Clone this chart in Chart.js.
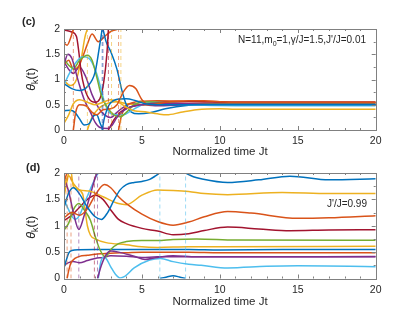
<!DOCTYPE html>
<html>
<head>
<meta charset="utf-8">
<script src="https://cdn.jsdelivr.net/npm/chart.js@4"></script>
<style>
  body { margin: 0; background: #fff; width: 415px; height: 313px; overflow: hidden; position: relative;
         font-family: "Liberation Sans", Arial, sans-serif; color: #262626; }
  .panel { position: absolute; left: 0; width: 415px; height: 150px; }
  .txt { position: absolute; white-space: nowrap; line-height: 1; }
  .tag { font-weight: bold; font-size: 11px; }
  .xt { font-size: 11.5px; width: 312px; left: 64px; text-align: center; }
  .yt { font-size: 12.5px; transform: rotate(-90deg); transform-origin: center; width: 40px; text-align: center; }
  .note { font-size: 10px; }
  sub { font-size: 70%; vertical-align: -3px; line-height: 0; }
</style>
</head>
<body>
<div class="panel" id="boxC" style="top:0"><canvas id="chartC"></canvas></div>
<div class="panel" id="boxD" style="top:144px"><canvas id="chartD"></canvas></div>

<div class="txt tag" style="left:22px;top:16px">(c)</div>
<div class="txt tag" style="left:26px;top:162px">(d)</div>
<div class="txt yt" style="left:11px;top:73px"><i>θ</i><sub>k</sub>(t)</div>
<div class="txt yt" style="left:11px;top:221px"><i>θ</i><sub>k</sub>(t)</div>
<div class="txt xt" style="top:146px">Normalized time Jt</div>
<div class="txt xt" style="top:296px">Normalized time Jt</div>
<div class="txt note" style="right:49px;top:35px">N=11,m<sub>0</sub>=1,γ/J=1.5,J'/J=0.01</div>
<div class="txt note" style="right:48px;top:199px">J'/J=0.99</div>

<script>
// tick labels
const xTicks = [0, 5, 10, 15, 20];
const yTicks = [0, 0.5, 1, 1.5, 2];

// MATLAB colour order
const colors = ['#0072BD', '#D95319', '#EDB120', '#7E2F8E', '#77AC30', '#4DBEEE', '#A2142F'];

// panel (c): [t, theta], null = wrap
const cBlueA = [[0,0.92],[0.5,0.82],[1,0.78],[1.5,0.86],[2,1.15],[2.25,1.6],[2.45,2.0],[2.45,null],[2.45,0],[2.6,0.25],[2.9,0.5],[3.3,0.6],[4,0.62],[4.6,0.58],[5.2,0.52],[6,0.5],[8,0.5],[11,0.5],[20,0.5]];
const cOrangeA = [[0,1.72],[0.2,1.68],[0.4,1.8],[0.6,2.0],[0.6,null],[0.6,0],[0.75,0.35],[1,0.5],[1.4,0.48],[1.8,0.35],[2.1,0.3],[2.5,0.4],[3,0.42],[3.4,0.5],[3.8,0.75],[4.2,0.88],[4.6,0.82],[5,0.6],[5.5,0.5],[6.5,0.55],[8,0.58],[9,0.58],[10,0.56],[11,0.55],[20,0.55]];
const cYellowA = [[0,0.13],[0.3,0.3],[0.6,0.52],[1,0.6],[1.5,0.55],[2,0.5],[2.5,0.55],[3,0.6],[3.5,0.55],[4,0.45],[4.5,0.38],[5.2,0.36],[6,0.32],[6.6,0.3],[7.5,0.35],[8.5,0.4],[10,0.42],[11,0.41],[20,0.41]];
const cPurpleA = [[0,1.3],[0.25,1.5],[0.5,1.42],[0.8,1.1],[1,0.88],[1.3,0.6],[1.7,0.35],[2,0.15],[2.3,0.05],[2.8,0.03],[3.1,0.1],[3.4,0.25],[3.8,0.38],[4.3,0.46],[5,0.5],[6,0.53],[8,0.52],[11,0.51],[20,0.51]];
const cGreen = [[0,1.42],[0.3,1.28],[0.6,1.22],[1,1.38],[1.5,1.48],[1.8,1.38],[2.1,1.05],[2.4,0.68],[2.75,0.46],[3.2,0.3],[3.6,0.26],[4,0.35],[4.5,0.5],[5.2,0.56],[6,0.55],[8,0.52],[11,0.52],[20,0.52]];
const cLightBlue = [[0,0.9],[0.4,1.15],[0.8,1.35],[1.2,1.45],[1.6,1.42],[2,1.2],[2.3,0.9],[2.6,0.55],[2.9,0.35],[3.3,0.3],[3.8,0.3],[4.3,0.38],[5,0.5],[5.5,0.55],[6.5,0.53],[8,0.5],[11,0.48],[20,0.48]];
const cDarkRed = [[0,1.98],[0.5,1.94],[0.8,1.85],[0.95,1.55],[1.1,1.15],[1.3,0.85],[1.6,0.62],[2,0.55],[2.3,0.62],[2.55,0.95],[2.75,1.5],[2.85,2.0],[2.85,null],[2.85,0],[3.2,0.2],[3.6,0.35],[4.2,0.45],[5,0.5],[6,0.55],[8,0.56],[11,0.55],[20,0.55]];
const cBlueB = [[0,0.38],[0.4,0.39],[0.7,0.35],[1,0.22],[1.3,0.1],[1.6,0.12],[1.9,0.28],[2.1,0.3],[2.3,0.15],[2.5,0],[2.5,null],[2.5,2],[2.7,1.75],[3,1.55],[3.4,1.2],[3.7,0.8],[4,0.5],[4.3,0.36],[4.8,0.32],[5.5,0.34],[6.5,0.42],[8,0.49],[9,0.51],[11,0.5],[20,0.5]];
const cOrangeB = [[0,1.3],[0.3,1.38],[0.6,1.2],[0.9,1.25],[1.2,1.45],[1.5,1.7],[1.8,1.9],[2.2,1.75],[2.6,1.85],[3,1.95],[3.5,2.0],[3.5,null],[3.5,0],[3.7,0.3],[4,0.48],[4.5,0.55],[5,0.57],[6,0.58],[8,0.57],[10,0.56],[11,0.55],[20,0.55]];
const cYellowB = [[0,0.98],[0.4,0.88],[0.8,1.0],[1.1,1.4],[1.35,1.85],[1.5,2.0],[1.5,null],[1.5,0],[1.8,0.25],[2.2,0.42],[2.6,0.5],[3,0.55],[3.4,0.56],[4,0.52],[5,0.5],[6,0.52],[8,0.52],[20,0.52]];
const cPurpleB = [[0,1.35],[0.3,1.2],[0.6,1.12],[1,1.25],[1.4,1.05],[1.8,0.7],[2.2,0.45],[2.6,0.3],[3,0.25],[3.4,0.35],[3.8,0.45],[4.4,0.52],[5,0.5],[6,0.48],[8,0.5],[11,0.5],[20,0.5]];
const cWrapT = [0.6, 1.5, 2.45, 2.5, 2.85, 3.05, 3.5, 3.65];
const cWrapColor = [1, 2, 0, 3, 6, 2, 1, 2];

// panel (d)
const dBlueA = [[0,1.35],[0.3,1.62],[0.6,1.72],[1,1.6],[1.5,1.35],[2,1.17],[2.4,1.12],[2.8,1.25],[3.2,1.48],[3.6,1.68],[4,1.78],[4.5,1.82],[5,1.84],[5.5,1.88],[5.9,1.95],[6.15,2.0],[6.15,null],[6.15,0],[6.6,0.03],[7,0.05],[7.4,0.03],[7.8,0],[7.8,null],[7.8,2],[8.3,1.93],[8.8,1.89],[10.5,1.82],[12.5,1.87],[14.5,1.94],[17,1.87],[20,1.89]];
const dOrangeA = [[0,1.15],[0.5,1.25],[1,1.2],[1.5,1.32],[2,1.58],[2.6,1.78],[3,1.72],[3.5,1.55],[4,1.42],[5,1.22],[6,1.08],[7,1.01],[8,1.07],[9,1.17],[10.5,1.27],[12,1.24],[15,1.14],[17,1.15],[20,1.19]];
const dYellowA = [[0,1.75],[0.3,1.95],[0.6,1.8],[1,1.68],[1.6,1.66],[2.5,1.55],[3.5,1.42],[4,1.4],[5,1.58],[6,1.68],[7,1.67],[8,1.65],[9,1.61],[10.5,1.59],[14,1.63],[17,1.61],[20,1.61]];
const dPurpleA = [[0,1.9],[0.3,1.65],[0.6,1.25],[0.95,0.93],[1.3,1.2],[1.7,1.6],[2.05,1.95],[2.15,2.0],[2.15,null],[2.15,0],[2.4,0.25],[2.7,0.45],[3,0.52],[3.5,0.5],[4.5,0.42],[5.2,0.36],[6,0.4],[7,0.43],[8.5,0.41],[20,0.41]];
const dGreen = [[0,0.92],[0.3,1.05],[0.6,1.3],[0.95,1.42],[1.3,1.3],[1.7,1.1],[2,0.8],[2.3,0.55],[2.65,0.41],[3,0.55],[3.5,0.66],[4,0.7],[5,0.72],[6,0.72],[7,0.74],[8.5,0.75],[11,0.73],[20,0.725]];
const dLightBlue = [[0,1.5],[0.3,1.3],[0.7,1.12],[1,1.2],[1.3,1.42],[1.7,1.7],[2,1.9],[2.2,2.0],[2.2,null],[2.2,0],[2.35,0.3],[2.5,0.4],[2.7,0.38],[3,0.22],[3.3,0.08],[3.6,0.01],[3.9,0.04],[4.5,0.2],[5.5,0.35],[6.2,0.38],[7,0.32],[8,0.27],[8.8,0.25],[10.5,0.2],[13,0.23],[15,0.24],[20,0.225]];
const dDarkRed = [[0,1.1],[0.5,1.2],[1,1.35],[1.5,1.5],[2,1.58],[2.5,1.5],[3,1.3],[3.5,1.12],[4,1.04],[5,0.95],[6,0.9],[7,0.83],[8,0.85],[9,0.91],[10.5,0.975],[12.5,0.94],[14.5,0.906],[17,0.92],[20,0.925]];
const dBlueB = [[0,0.2],[0.15,0.35],[0.3,0.48],[0.5,0.53],[1,0.545],[2,0.55],[4,0.55],[6,0.55],[8,0.55],[10,0.54],[14,0.55],[20,0.55]];
const dOrangeB = [[0,1.8],[0.1,1.92],[0.2,2.0],[0.2,null],[0.2,0],[0.3,0.15],[0.45,0.3],[0.7,0.38],[1,0.42],[1.5,0.44],[2,0.46],[2.5,0.47],[3,0.48],[4,0.49],[5,0.5],[6,0.5],[8,0.5],[10,0.49],[20,0.49]];
const dYellowB = [[0,1.55],[0.2,1.85],[0.4,2.1],[0.6,1.75],[0.8,1.7],[1.2,1.6],[1.35,1.3],[1.5,1.0],[1.7,0.82],[2,0.75],[2.7,0.68],[4,0.64],[5,0.6],[6,0.59],[8,0.6],[10,0.6],[20,0.61]];
const dPurpleB = [[0,0.25],[0.3,0.3],[0.6,0.32],[1,0.3],[1.5,0.34],[2,0.38],[2.5,0.4],[3,0.43],[4,0.42],[5,0.4],[6,0.41],[8,0.41],[20,0.415]];
const dWrapT = [0.03, 0.2, 0.45, 0.95, 1.95, 2.15, 6.15, 7.8];
const dWrapColor = [5, 1, 1, 3, 6, 3, 5, 5];

const cSeries = [cBlueA, cOrangeA, cYellowA, cPurpleA, cGreen, cLightBlue, cDarkRed, cBlueB, cOrangeB, cYellowB, cPurpleB];
const dSeries = [dBlueA, dOrangeA, dYellowA, dPurpleA, dGreen, dLightBlue, dDarkRed, dBlueB, dOrangeB, dYellowB, dPurpleB];

function fade(hex, a) {
  const n = parseInt(hex.slice(1), 16);
  return `rgba(${n >> 16}, ${(n >> 8) & 255}, ${n & 255}, ${a})`;
}

// frame + inward ticks like matlab
const boxPlugin = {
  id: 'box',
  afterDraw(chart) {
    const { ctx, chartArea: a, scales: { x, y } } = chart;
    ctx.save();
    ctx.strokeStyle = '#808080';
    ctx.lineWidth = 1;
    ctx.beginPath();
    for (let v = 0; v <= 20; v += 1) {
      const px = Math.round(x.getPixelForValue(v)) + 0.5;
      const len = v % 5 === 0 ? 4 : 2;
      ctx.moveTo(px, a.bottom); ctx.lineTo(px, a.bottom - len);
      ctx.moveTo(px, a.top); ctx.lineTo(px, a.top + len);
    }
    for (let i = 0; i <= 8; i++) {
      const py = Math.round(y.getPixelForValue(i * 0.25)) + 0.5;
      const len = i % 2 === 0 ? 4 : 2;
      ctx.moveTo(a.left, py); ctx.lineTo(a.left + len, py);
      ctx.moveTo(a.right, py); ctx.lineTo(a.right - len, py);
    }
    ctx.stroke();
    ctx.strokeRect(Math.round(a.left) + 0.5, Math.round(a.top) + 0.5, Math.round(a.right - a.left), Math.round(a.bottom - a.top));
    ctx.restore();
  }
};

function makePanel(id, series, wrapT, wrapColor, padTop, xHeight) {
  const datasets = [];
  wrapT.forEach((t, i) => {
    datasets.push({
      data: [{ x: t, y: 0 }, { x: t, y: 2 }],
      borderColor: fade(colors[wrapColor[i]], 0.55),
      borderWidth: 1,
      borderDash: [4, 3],
      pointRadius: 0,
      tension: 0
    });
  });
  series.forEach((s, i) => {
    datasets.push({
      data: s.map(p => ({ x: p[0], y: p[1] })),
      borderColor: colors[i % 7],
      borderWidth: 1.5,
      pointRadius: 0,
      cubicInterpolationMode: 'monotone',
      spanGaps: false
    });
  });

  new Chart(document.getElementById(id), {
    type: 'line',
    data: { datasets },
    options: {
      responsive: true,
      maintainAspectRatio: false,
      animation: false,
      events: [],
      layout: { padding: { top: padTop, right: 39.3, left: 0, bottom: 0 } },
      plugins: { legend: { display: false }, tooltip: { enabled: false } },
      scales: {
        x: {
          type: 'linear', min: 0, max: 20,
          afterBuildTicks: s => { s.ticks = xTicks.map(v => ({ value: v })); },
          afterFit: s => { s.height = xHeight; },
          grid: { display: false, drawTicks: false },
          border: { display: false },
          ticks: { padding: 5, color: '#262626', font: { family: 'Liberation Sans', size: 10.5 }, maxRotation: 0,
                   callback: v => String(v) }
        },
        y: {
          min: 0, max: 2,
          afterBuildTicks: s => { s.ticks = yTicks.map(v => ({ value: v })); },
          afterFit: s => { s.width = 64; },
          grid: { display: false, drawTicks: false },
          border: { display: false },
          ticks: { padding: 4, color: '#262626', font: { family: 'Liberation Sans', size: 10.5 },
                   callback: v => String(v) }
        }
      }
    },
    plugins: [boxPlugin]
  });
}

makePanel('chartC', cSeries, cWrapT, cWrapColor, 29, 20);
makePanel('chartD', dSeries, dWrapT, dWrapColor, 29, 15.5);
</script>
</body>
</html>
